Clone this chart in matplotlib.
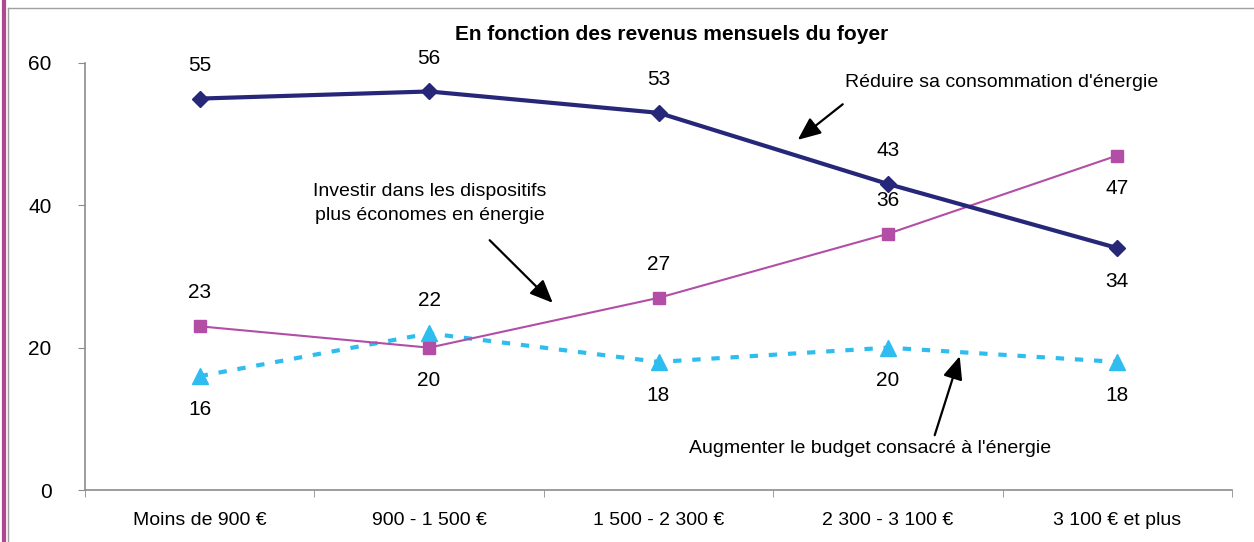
import matplotlib.pyplot as plt
from matplotlib.lines import Line2D

plt.rcParams["font.family"] = ["Liberation Sans", "DejaVu Sans"]

categories = ["Moins de 900 €", "900 - 1 500 €", "1 500 - 2 300 €", "2 300 - 3 100 €", "3 100 € et plus"]
reduire = [55, 56, 53, 43, 34]
investir = [23, 20, 27, 36, 47]
augmenter = [16, 22, 18, 20, 18]

# label placement: +1 above, -1 below
reduire_pos = [1, 1, 1, 1, -1]
investir_pos = [1, -1, 1, 1, -1]
augmenter_pos = [-1, 1, -1, -1, -1]

NAVY = "#27277a"
MAGENTA = "#b24ea6"
CYAN = "#2fbdf0"
GRAY = "#8c8c8c"

fig = plt.figure(figsize=(12.54, 5.42), dpi=100)
ax = fig.add_axes([85 / 1254, 1 - 490 / 542, (1232 - 85) / 1254, (490 - 63) / 542])

x = list(range(len(categories)))
ax.plot(x, augmenter, color=CYAN, lw=3, ls=(0, (2.0, 2.6)), marker="^", ms=12,
        clip_on=False, zorder=3)
ax.plot(x, investir, color=MAGENTA, lw=1.5, marker="s", ms=8, clip_on=False, zorder=4)
ax.plot(x, reduire, color=NAVY, lw=3, marker="D", ms=8, clip_on=False, zorder=5)

for series, pos in [(reduire, reduire_pos), (investir, investir_pos), (augmenter, augmenter_pos)]:
    for xi, (v, p) in enumerate(zip(series, pos)):
        ax.annotate(str(v), (xi, v), xytext=(0, 24 * p), textcoords="offset points",
                    ha="center", va="center", fontsize=15, annotation_clip=False)

ax.set_xlim(-0.5, 4.5)
ax.set_ylim(0, 60)
ax.set_yticks([0, 20, 40, 60])
ax.set_xticks(x)
ax.set_xticklabels(categories, fontsize=14)
ax.set_xticks([i - 0.5 for i in range(6)], minor=True)
ax.tick_params(axis="x", which="major", length=0, pad=16)
ax.tick_params(axis="x", which="minor", length=5, color=GRAY, direction="out")
ax.tick_params(axis="y", length=5, color=GRAY, labelsize=15, pad=19)

for s in ["top", "right"]:
    ax.spines[s].set_visible(False)
for s in ["left", "bottom"]:
    ax.spines[s].set_color(GRAY)
    ax.spines[s].set_linewidth(1.2)

fig.text(672 / 1254, 1 - 35 / 542, "En fonction des revenus mensuels du foyer",
         ha="center", va="center", fontsize=15, fontweight="bold")

arrow = dict(arrowstyle="-|>,head_length=1.4,head_width=0.6", color="black", lw=1.6,
             shrinkA=0, shrinkB=0)
ax.text(3.496, 57.3, "Réduire sa consommation d'énergie", ha="center", va="center", fontsize=14)
ax.annotate("", xy=(2.607, 49.2), xytext=(2.803, 54.2), arrowprops=arrow)
ax.text(1.003, 40.2, "Investir dans les dispositifs\nplus économes en énergie",
        ha="center", va="center", fontsize=14, linespacing=1.55)
ax.annotate("", xy=(1.539, 26.3), xytext=(1.264, 35.1), arrowprops=arrow)
ax.text(2.921, 5.9, "Augmenter le budget consacré à l'énergie", ha="center", va="center",
        fontsize=14)
ax.annotate("", xy=(3.313, 18.8), xytext=(3.204, 7.7), arrowprops=arrow)

# page frame
fig.add_artist(Line2D([3.5 / 1254, 3.5 / 1254], [0, 1], color="#b0488f", lw=3))
fig.add_artist(Line2D([8 / 1254, 8 / 1254], [0, 1 - 8 / 542], color="#a0a0a0", lw=1))
fig.add_artist(Line2D([8 / 1254, 1], [1 - 8 / 542, 1 - 8 / 542], color="#a0a0a0", lw=1))

fig.savefig("out.png", dpi=100)
